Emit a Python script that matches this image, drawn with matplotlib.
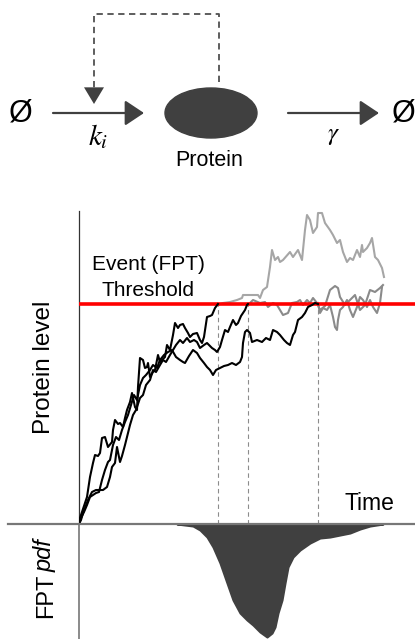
import numpy as np
import matplotlib
matplotlib.use("Agg")
import matplotlib.pyplot as plt
from matplotlib.patches import Ellipse
from matplotlib.lines import Line2D

plt.rcParams["font.family"] = ["Liberation Sans", "DejaVu Sans"]
plt.rcParams["mathtext.fontset"] = "stix"

# ---------------- data (arbitrary units) ----------------
threshold = 220

# three trajectories up to their first passage
t1 = [0, 1, 3, 6, 8, 11, 14, 16, 19, 21, 23, 26, 29, 33, 34, 36, 39, 41, 44, 46, 48, 51, 53, 56, 58, 59,
      61, 64, 66, 68, 69, 71, 74, 76, 79, 81, 84, 86, 88, 91, 94, 96, 99, 101, 104, 106, 109, 111, 114,
      118, 121, 123, 125, 128, 131, 133, 136, 139]
p1 = [0, 6, 12, 21, 27, 47, 61, 69, 68, 71, 86, 87, 77, 82, 94, 104, 100, 101, 97, 106, 114, 122, 131, 117,
      114, 137, 166, 164, 156, 157, 161, 147, 152, 154, 169, 162, 165, 167, 179, 174, 189, 201, 196, 199,
      200, 196, 191, 187, 190, 191, 184, 181, 187, 207, 208, 209, 216, 220]

t2 = [0, 2, 4, 6, 9, 13, 17, 21, 24, 28, 31, 33, 36, 38, 41, 43, 46, 49, 51, 54, 57, 61, 64, 67, 71, 74, 77,
      81, 84, 87, 91, 94, 97, 101, 104, 108, 111, 115, 118, 121, 125, 128, 131, 133, 136, 138, 141, 143,
      146, 149, 151, 154, 157, 159, 162, 164, 166, 168, 169]
p2 = [0, 4, 11, 16, 24, 32, 34, 34, 34, 37, 47, 57, 61, 77, 62, 68, 79, 91, 99, 109, 114, 126, 129, 139,
      144, 154, 152, 159, 164, 162, 169, 174, 179, 184, 181, 186, 182, 184, 182, 176, 179, 181, 178, 176,
      174, 172, 177, 184, 194, 192, 197, 204, 199, 201, 208, 211, 214, 219, 220]

t3 = [0, 2, 5, 8, 11, 14, 17, 20, 23, 26, 29, 31, 34, 37, 40, 43, 46, 49, 52, 55, 58, 61, 64, 67, 71, 74,
      78, 81, 85, 89, 93, 97, 101, 104, 106, 110, 114, 118, 121, 125, 128, 131, 134, 137, 141, 145, 149,
      153, 157, 161, 163, 164, 166, 168, 171, 173, 178, 183, 187, 191, 194, 198, 201, 205, 208, 211, 214,
      216, 219, 223, 226, 229, 233, 236, 239]
p3 = [0, 6, 12, 19, 27, 29, 31, 32, 44, 54, 62, 64, 79, 87, 84, 94, 102, 109, 119, 129, 124, 139, 146, 149,
      154, 159, 156, 164, 169, 172, 174, 167, 164, 162, 161, 168, 174, 171, 166, 161, 157, 154, 149, 154,
      156, 158, 159, 161, 159, 162, 167, 181, 192, 194, 191, 182, 184, 182, 186, 184, 194, 192, 189, 184,
      181, 179, 189, 192, 204, 207, 211, 217, 219, 221, 220]

# continuations after the first passage
c1_t = [139, 144, 151, 158, 163, 164, 171, 179, 181, 184, 188, 191, 193, 196, 199, 201, 204, 211, 214,
        219, 223, 226, 228, 231, 234, 238, 239, 243, 246, 251, 254, 258, 261, 264, 268, 271, 274, 278,
        281, 283, 284, 288, 291, 293, 296, 299, 303, 305]
c1_p = [219, 221, 222, 224, 226, 229, 229, 229, 226, 234, 237, 257, 274, 264, 267, 262, 264, 272, 267,
        274, 264, 294, 309, 304, 291, 297, 311, 311, 301, 294, 289, 281, 284, 272, 262, 266, 264, 274,
        267, 279, 272, 276, 281, 286, 267, 264, 256, 247]

c2_t = [169, 174, 181, 186, 189, 194, 198, 201, 204, 209, 213, 218, 221, 224, 228, 231, 234, 238, 241,
        246, 251, 256, 259, 261, 266, 271, 276, 281, 286, 291, 296, 301, 304]
c2_p = [219, 224, 221, 222, 217, 221, 219, 214, 209, 211, 221, 222, 224, 219, 224, 221, 226, 221, 214,
        218, 234, 238, 236, 227, 219, 224, 229, 214, 219, 234, 232, 236, 239]

c3_t = [239, 241, 244, 248, 251, 254, 256, 258, 259, 261, 264, 268, 271, 274, 278, 281, 284, 288, 291,
        294, 298, 301, 303]
c3_p = [221, 211, 216, 214, 219, 207, 197, 194, 204, 214, 217, 224, 214, 207, 217, 227, 224, 217, 224,
        217, 211, 221, 237]

fpt = [139, 169, 239]

# first passage time density (depth below the time axis)
pdf_t = [98, 114, 121, 128, 134, 141, 148, 154, 161, 168, 174, 181, 188, 193, 196, 199, 203, 206, 209,
         214, 221, 231, 241, 251, 261, 271, 281, 291, 304]
pdf_v = [0, 2, 6, 13, 23, 39, 59, 76, 89, 96, 101, 108, 113, 109, 103, 89, 76, 59, 43, 33, 26, 19, 14, 13,
         11, 9, 5, 2, 0]

# ---------------- figure ----------------
W, H = 415, 639
fig = plt.figure(figsize=(W / 100, H / 100), dpi=100)
dark = "#404040"

# schematic at the top (pixel-like frame)
ax_s = fig.add_axes([0, 1 - 180 / H, 1, 180 / H])
ax_s.set_xlim(0, W)
ax_s.set_ylim(180, 0)
ax_s.axis("off")

ax_s.text(21, 114, "Ø", fontsize=22, ha="center", va="center")
ax_s.text(404, 114, "Ø", fontsize=22, ha="center", va="center")
head = "-|>,head_length=0.45,head_width=0.3"
ax_s.annotate("", xy=(144, 113), xytext=(53, 113),
              arrowprops=dict(arrowstyle=head, mutation_scale=26, color=dark, lw=1.6, shrinkA=0, shrinkB=0))
ax_s.annotate("", xy=(379, 113), xytext=(288, 113),
              arrowprops=dict(arrowstyle=head, mutation_scale=26, color=dark, lw=1.6, shrinkA=0, shrinkB=0))
ax_s.text(98, 137, r"$k_i$", fontsize=21, ha="center", va="center")
ax_s.text(333, 135, r"$\gamma$", fontsize=18, ha="center", va="center")
ax_s.add_patch(Ellipse((211, 113), 92, 50, color=dark))
ax_s.text(209, 160, "Protein", fontsize=15.5, ha="center", va="center")
ax_s.plot([219, 219, 94, 94], [82, 14, 14, 88], color="#505050", lw=1.3, ls=(0, (3.5, 2.5)))
ax_s.annotate("", xy=(94, 104), xytext=(94, 86),
              arrowprops=dict(arrowstyle="-|>,head_length=0.5,head_width=0.3", mutation_scale=24,
                              color=dark, lw=0, shrinkA=0, shrinkB=0))

# trajectories
ax = fig.add_axes([79 / W, 1 - 524 / H, 336 / W, 313 / H])
ax.set_xlim(0, 336)
ax.set_ylim(0, 313)
for s in ["top", "right", "bottom"]:
    ax.spines[s].set_visible(False)
ax.spines["left"].set_color("#333333")
ax.spines["left"].set_linewidth(0.9)
ax.set_xticks([])
ax.set_yticks([])

ax.plot(c1_t, c1_p, color="#a6a6a6", lw=1.5, zorder=2)
ax.plot(c2_t, c2_p, color="#8a8a8a", lw=1.5, zorder=2)
ax.plot(c3_t, c3_p, color="#8a8a8a", lw=1.5, zorder=2)
ax.axhline(threshold, color="#ff0000", lw=2.6, zorder=3)
for t, p in [(t1, p1), (t2, p2), (t3, p3)]:
    ax.plot(t, p, color="black", lw=1.5, zorder=4)
for f in fpt:
    ax.plot([f, f], [0, threshold], color="#8c8c8c", lw=0.8, ls=(0, (4, 3)), zorder=1)

ax.text(69, 259, "Event (FPT)", fontsize=15, ha="center", va="center")
ax.text(69, 233, "Threshold", fontsize=15, ha="center", va="center")
ax.text(290, 21, "Time", fontsize=16.5, ha="center", va="center")

# FPT density below the time axis
ax_p = fig.add_axes([79 / W, 0, 336 / W, 115 / H])
ax_p.set_xlim(0, 336)
ax_p.set_ylim(-115, 0)
for s in ["top", "right", "bottom"]:
    ax_p.spines[s].set_visible(False)
ax_p.spines["left"].set_color("#777777")
ax_p.spines["left"].set_linewidth(1.2)
ax_p.set_xticks([])
ax_p.set_yticks([])
ax_p.fill_between(pdf_t, 0, -np.array(pdf_v), color=dark, lw=1.5, edgecolor=dark)

# time axis across the figure
fig.add_artist(Line2D([8 / W, 1], [1 - 524 / H, 1 - 524 / H], color="#777777", lw=1.6))

fig.text(44 / W, 1 - 367 / H, "Protein level", fontsize=17.5, rotation=90, ha="center", va="center")
fig.text(52 / W, 1 - 618 / H, "FPT", fontsize=17, rotation=90, ha="left", va="baseline",
         rotation_mode="anchor")
fig.text(52 / W, 1 - 572 / H, "pdf", fontsize=17, rotation=90, ha="left", va="baseline",
         rotation_mode="anchor", style="italic")

fig.savefig("out.png", dpi=100)
